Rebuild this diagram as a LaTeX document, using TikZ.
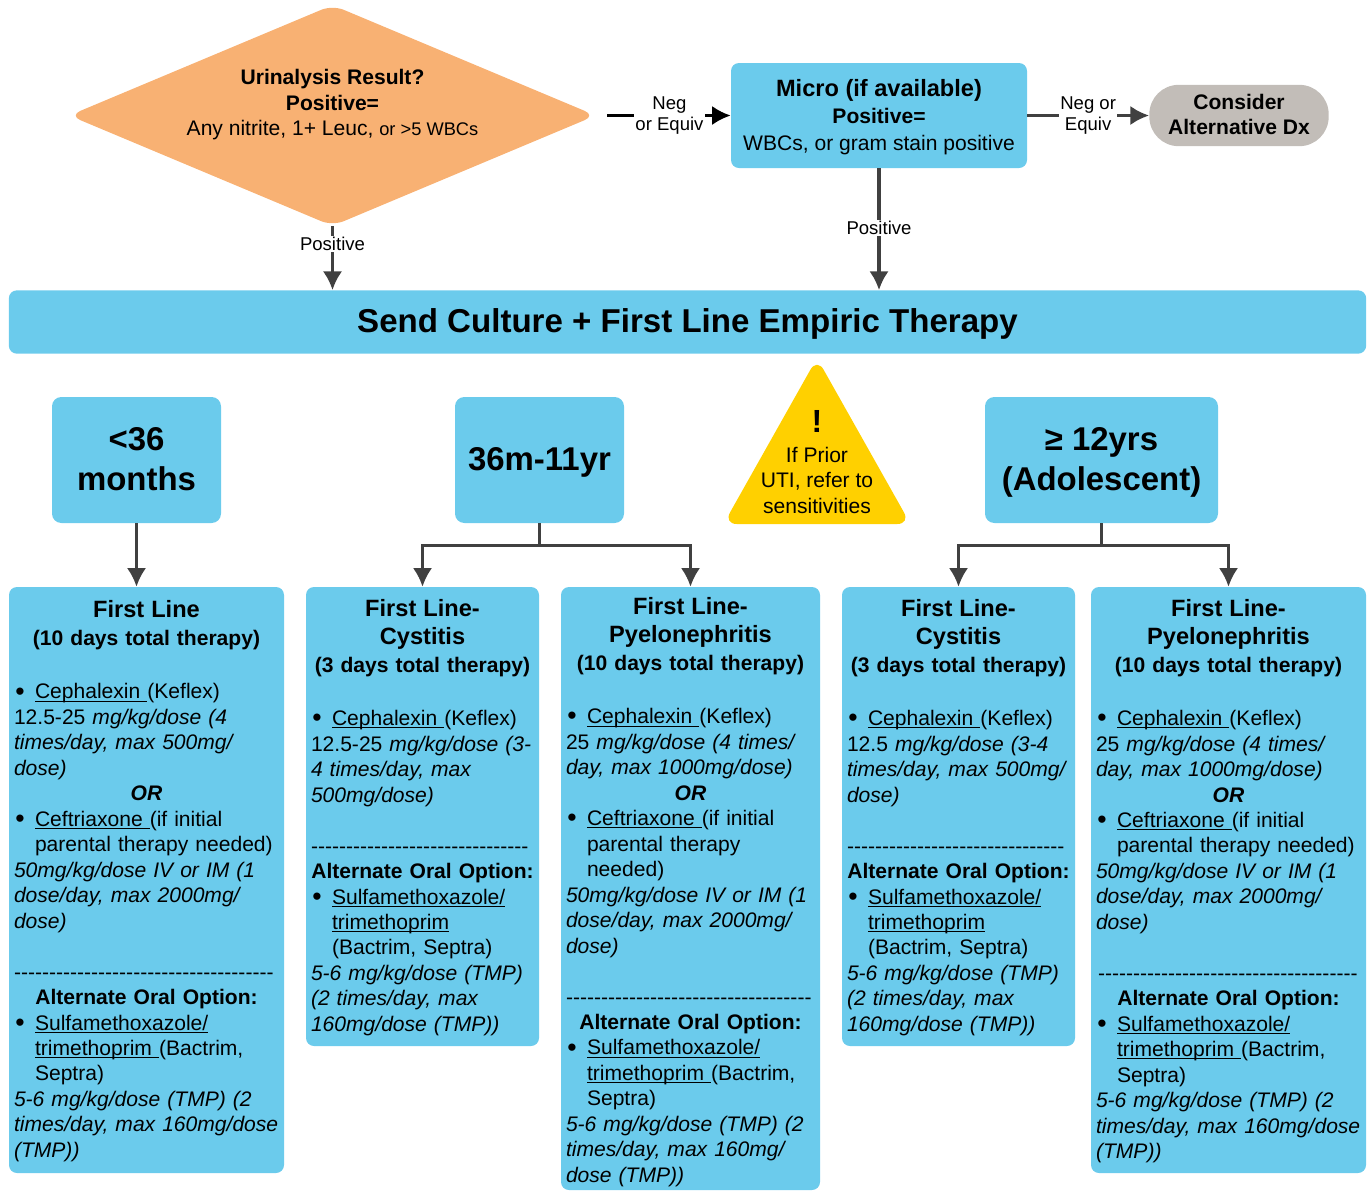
\documentclass[tikz,border=0pt]{standalone}
\usepackage{fontspec}
\setmainfont{Liberation Sans}
\usetikzlibrary{shapes.geometric,arrows.meta}
\definecolor{boxblue}{HTML}{6BCBEC}
\definecolor{boxorange}{HTML}{F8B173}
\definecolor{boxgrey}{HTML}{C2BDB8}
\definecolor{warnyellow}{HTML}{FFD000}
\definecolor{connline}{HTML}{404040}
\newcommand{\bodysize}{\fontsize{15.8pt}{19.1pt}\selectfont}
\newcommand{\ttl}[1]{\makebox[\hsize]{\fontsize{17.7pt}{19pt}\selectfont\bfseries #1}\\[1.8pt]}
\newcommand{\hd}[1]{\makebox[\hsize]{\bfseries #1}\\}
\newcommand{\bl}{\makebox[15.75pt][l]{\hspace{1pt}\raisebox{-0.8pt}{\fontsize{20pt}{19pt}\selectfont\textbullet}}}
\newcommand{\ind}{\hspace*{15.75pt}}
\newcommand{\und}[1]{\underline{\smash{#1}\vphantom{x}}}
\newcommand{\dashline}[1]{\mbox{\foreach \n in {1,...,#1}{-}}\\}
\newcommand{\topgap}[1]{\leavevmode\rule{0pt}{#1}}
\newcommand{\bigstrut}{\rule[-4.7pt]{0pt}{25.7pt}}
\tikzset{
  blue box/.style={fill=boxblue, rounded corners=6pt, inner sep=0pt},
  tx box/.style 2 args={blue box, font=\bodysize, align=left, text width=#1, inner xsep=3.75pt, minimum height=#2},
  age box/.style={blue box, rounded corners=7pt, font=\fontsize{24.7pt}{30pt}\selectfont\bfseries, align=center, minimum height=94.5pt},
  conn/.style={draw=connline, line width=2.4pt, -{Latex[length=14pt,width=14.5pt]}},
  edge label/.style={fill=white, font=\fontsize{13.9pt}{15.8pt}\selectfont, align=center, inner xsep=1pt, inner ysep=1pt}
}
\begin{document}
\begin{tikzpicture}[x=0.75pt,y=-0.75pt]
\useasboundingbox (0,0) rectangle (1371,1190) ;
\node[diamond, fill=boxorange, rounded corners=9pt, inner sep=0pt, aspect=2.39, minimum width=395pt, minimum height=165.75pt, font=\bodysize, align=center] (urinalysis) at (332.5,115.5) {\textbf{Urinalysis Result?}\\\textbf{Positive=}\\Any nitrite, 1+ Leuc, {\fontsize{13.7pt}{19pt}\selectfont or >5 WBCs}\\\mbox{}} ;
\node[blue box, font=\bodysize, align=center, minimum width=222pt, minimum height=78.75pt] (micro) at (879,115.5) {\rule{0pt}{15pt}{\fontsize{17.7pt}{20pt}\selectfont\bfseries Micro (if available)}\\[1.2pt]\textbf{Positive=}\\[1.2pt]WBCs, or gram stain positive} ;
\node[fill=boxgrey, rounded corners=22pt, inner sep=0pt, font=\fontsize{15.8pt}{18.8pt}\selectfont\bfseries, align=center, minimum width=134.5pt, minimum height=46pt] (consider) at (1239,115.5) {Consider\\Alternative Dx\rule[-1.5pt]{0pt}{1.5pt}} ;
\node[blue box, font=\fontsize{24.8pt}{30pt}\selectfont\bfseries, minimum width=1018pt, minimum height=47.5pt] (culture) at (687.5,322) {\bigstrut Send Culture + First Line Empiric Therapy} ;
\node[age box, minimum width=126.75pt] (under36) at (136.5,460) {\bigstrut<36\\\bigstrut months} ;
\node[age box, minimum width=126.75pt] (age36m) at (539.5,460) {\bigstrut 36m-11yr} ;
\node[age box, minimum width=174.75pt] (age12) at (1101.5,460) {\bigstrut ≥ 12yrs\\\bigstrut(Adolescent)} ;
\fill[warnyellow, rounded corners=10pt] (817,358) -- (910.5,524) -- (723.5,524) -- cycle ;
\node[font=\bodysize, align=center, inner sep=0pt] (warning) at (817,462) {{\fontsize{24pt}{24pt}\selectfont\bfseries !}\\[3.5pt]If Prior\\UTI, refer to\\sensitivities} ;
\node[tx box={198.75pt}{439.5pt}] (firstline) at (146.5,880) {\topgap{14.4pt}\ttl{First Line}\hd{(10 days total therapy)}\mbox{}\\[2pt]
\bl\und{Cephalexin\ }(Keflex)\\
12.5-25 \textit{mg/kg/dose (4}\\
\textit{times/day, max 500mg/}\\
\textit{dose)}\\
\hd{\itshape OR}
\bl\und{Ceftriaxone\ }(if initial\\
\ind parental therapy needed)\\
\textit{50mg/kg/dose IV or IM (1}\\
\textit{dose/day, max 2000mg/}\\
\textit{dose)}\\
\mbox{}\\
\dashline{37}
\hd{Alternate Oral Option:}
\bl\und{Sulfamethoxazole/}\\
\ind\und{trimethoprim\ }(Bactrim,\\
\ind Septra)\\
\textit{5-6 mg/kg/dose (TMP) (2}\\
\textit{times/day, max 160mg/dose}\\
\textit{(TMP))}} ;
\node[tx box={167.25pt}{344.25pt}] (cystitisA) at (422.5,816.5) {\topgap{14.4pt}\ttl{First Line-}\ttl{Cystitis}\hd{(3 days total therapy)}\mbox{}\\[2pt]
\bl\und{Cephalexin\ }(Keflex)\\
12.5-25 \textit{mg/kg/dose (3-}\\
\textit{4 times/day, max}\\
\textit{500mg/dose)}\\
\mbox{}\\
\dashline{31}
\hd{Alternate Oral Option:}
\bl\und{Sulfamethoxazole/}\\
\ind\und{trimethoprim}\\
\ind(Bactrim, Septra)\\
\textit{5-6 mg/kg/dose (TMP)}\\
\textit{(2 times/day, max}\\
\textit{160mg/dose (TMP))}} ;
\node[tx box={186.75pt}{452.25pt}] (pyeloA) at (690.5,888.5) {\topgap{18.2pt}\ttl{First Line-}\ttl{Pyelonephritis}\hd{(10 days total therapy)}\mbox{}\\[2pt]
\bl\und{Cephalexin\ }(Keflex)\\
25 \textit{mg/kg/dose (4 times/}\\
\textit{day, max 1000mg/dose)}\\
\hd{\itshape OR}
\bl\und{Ceftriaxone\ }(if initial\\
\ind parental therapy\\
\ind needed)\\
\textit{50mg/kg/dose IV or IM (1}\\
\textit{dose/day, max 2000mg/}\\
\textit{dose)}\\
\mbox{}\\
\dashline{35}
\hd{Alternate Oral Option:}
\bl\und{Sulfamethoxazole/}\\
\ind\und{trimethoprim\ }(Bactrim,\\
\ind Septra)\\
\textit{5-6 mg/kg/dose (TMP) (2}\\
\textit{times/day, max 160mg/}\\
\textit{dose (TMP))}} ;
\node[tx box={167.25pt}{344.25pt}] (cystitisB) at (958.5,816.5) {\topgap{14.4pt}\ttl{First Line-}\ttl{Cystitis}\hd{(3 days total therapy)}\mbox{}\\[2pt]
\bl\und{Cephalexin\ }(Keflex)\\
12.5 \textit{mg/kg/dose (3-4}\\
\textit{times/day, max 500mg/}\\
\textit{dose)}\\
\mbox{}\\
\dashline{31}
\hd{Alternate Oral Option:}
\bl\und{Sulfamethoxazole/}\\
\ind\und{trimethoprim}\\
\ind(Bactrim, Septra)\\
\textit{5-6 mg/kg/dose (TMP)}\\
\textit{(2 times/day, max}\\
\textit{160mg/dose (TMP))}} ;
\node[tx box={198.75pt}{439.5pt}] (pyeloB) at (1228.5,880) {\topgap{14.4pt}\ttl{First Line-}\ttl{Pyelonephritis}\hd{(10 days total therapy)}\mbox{}\\[2pt]
\bl\und{Cephalexin\ }(Keflex)\\
25 \textit{mg/kg/dose (4 times/}\\
\textit{day, max 1000mg/dose)}\\
\hd{\itshape OR}
\bl\und{Ceftriaxone\ }(if initial\\
\ind parental therapy needed)\\
\textit{50mg/kg/dose IV or IM (1}\\
\textit{dose/day, max 2000mg/}\\
\textit{dose)}\\
\mbox{}\\
\hspace*{1.5pt}\dashline{37}
\hd{Alternate Oral Option:}
\bl\und{Sulfamethoxazole/}\\
\ind\und{trimethoprim\ }(Bactrim,\\
\ind Septra)\\
\textit{5-6 mg/kg/dose (TMP) (2}\\
\textit{times/day, max 160mg/dose}\\
\textit{(TMP))}} ;
\draw[conn, draw=black, shorten <=8.25pt] (urinalysis.east) -- node[edge label, pos=0.545] (negA) {Neg\\or Equiv} (micro.west) ;
\draw[conn] (micro.east) -- node[edge label, pos=0.5] (negB) {Neg or\\Equiv} (consider.west) ;
\draw[conn] (urinalysis.south) -- node[edge label, pos=0.28] (posA) {Positive} (urinalysis.south |- culture.north) ;
\draw[conn] (micro.south) -- node[edge label, pos=0.49] (posB) {Positive} (micro.south |- culture.north) ;
\draw[conn] (under36.south) -- (under36.south |- firstline.north) ;
\foreach \a/\b in {age36m/cystitisA,age36m/pyeloA,age12/cystitisB,age12/pyeloB} \draw[conn] (\a.south) -- ++(0,22) -| (\b.north) ;
\end{tikzpicture}
\end{document}
